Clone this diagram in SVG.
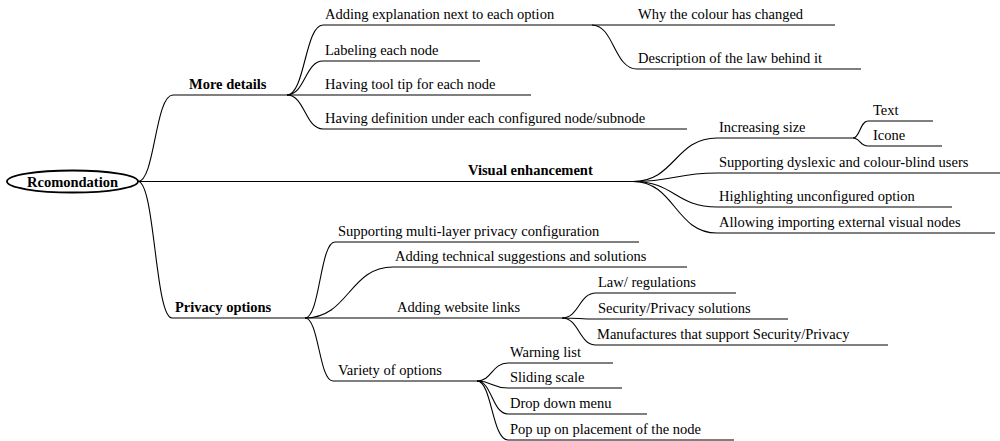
<svg xmlns="http://www.w3.org/2000/svg" width="1000" height="441" viewBox="0 0 1000 441" font-family="'Liberation Serif', 'DejaVu Serif', serif">
<style>
text{font-family:"Liberation Serif","DejaVu Serif",serif;font-size:14.5px;fill:#000}
.b{font-weight:bold}
.u{stroke:#000;stroke-width:1.1;fill:none}
.c{stroke:#000;stroke-width:1.1;fill:none}
</style>
<rect width="1000" height="441" fill="#fff"/>
<g id="connectors">
<path class="c" d="M138 181.5 C155 181.5 155 95 173 95"/>
<path class="c" d="M138 181.5 L468 181.5"/>
<path class="c" d="M138 181.5 C155 181.5 155 318 172 318"/>
<path class="c" d="M287 95 C305 95 305 25 323 25"/>
<path class="c" d="M287 95 C305 95 305 61 323 61"/>
<path class="c" d="M287 95 L323 95"/>
<path class="c" d="M287 95 C305 95 305 129 323 129"/>
<path class="c" d="M592 25 L637 25"/>
<path class="c" d="M592 25 C614 25 614 69 637 69"/>
<path class="c" d="M633 181.5 C675 181.5 675 138 717 138"/>
<path class="c" d="M633 181.5 C675 181.5 675 173 717 173"/>
<path class="c" d="M633 181.5 C675 181.5 675 207 717 207"/>
<path class="c" d="M633 181.5 C675 181.5 675 233 717 233"/>
<path class="c" d="M853 138 C860 138 860 121 868 121"/>
<path class="c" d="M853 138 C860 138 860 146 868 146"/>
<path class="c" d="M305 318 C320 318 320 242 335 242"/>
<path class="c" d="M305 318 C349 318 349 267 393 267"/>
<path class="c" d="M305 318 L393 318"/>
<path class="c" d="M305 318 C319 318 319 381 333 381"/>
<path class="c" d="M562 318 C579 318 579 293 596 293"/>
<path class="c" d="M562 318 C579 318 579 319 596 319"/>
<path class="c" d="M562 318 C579 318 579 345 596 345"/>
<path class="c" d="M477 381 C492 381 492 363 508 363"/>
<path class="c" d="M477 381 C492 381 492 388 508 388"/>
<path class="c" d="M477 381 C492 381 492 414 508 414"/>
<path class="c" d="M477 381 C492 381 492 440 508 440"/>
</g>
<g id="root">
<ellipse cx="72.5" cy="181.5" rx="65.5" ry="11" fill="#fff" stroke="#000" stroke-width="1.8"/>
<text class="b" x="72.5" y="186.5" text-anchor="middle">Rcomondation</text>
</g>
<g id="more-details">
<line class="u" x1="173" y1="95" x2="287" y2="95"/>
<text class="b" x="189" y="88.5">More details</text>
</g>
<g id="adding-explanation">
<line class="u" x1="323" y1="25" x2="592" y2="25"/>
<text x="325" y="18.5">Adding explanation next to each option</text>
</g>
<g id="why-colour">
<line class="u" x1="637" y1="25" x2="835" y2="25"/>
<text x="638" y="18.5">Why the colour has changed</text>
</g>
<g id="description-law">
<line class="u" x1="637" y1="69" x2="861" y2="69"/>
<text x="638" y="62.5">Description of the law behind it</text>
</g>
<g id="labeling">
<line class="u" x1="323" y1="61" x2="480" y2="61"/>
<text x="325" y="54.5">Labeling each node</text>
</g>
<g id="tool-tip">
<line class="u" x1="323" y1="95" x2="531" y2="95"/>
<text x="325" y="88.5">Having tool tip for each node</text>
</g>
<g id="definition">
<line class="u" x1="323" y1="129" x2="687" y2="129"/>
<text x="325" y="122.5">Having definition under each configured node/subnode</text>
</g>
<g id="visual-enhancement">
<line class="u" x1="468" y1="181.5" x2="633" y2="181.5"/>
<text class="b" x="468" y="175">Visual enhancement</text>
</g>
<g id="increasing-size">
<line class="u" x1="717" y1="138" x2="853" y2="138"/>
<text x="719" y="131.5">Increasing size</text>
</g>
<g id="text-node">
<line class="u" x1="868" y1="121" x2="933" y2="121"/>
<text x="873" y="114.5">Text</text>
</g>
<g id="icone">
<line class="u" x1="868" y1="146" x2="942" y2="146"/>
<text x="873" y="139.5">Icone</text>
</g>
<g id="dyslexic">
<line class="u" x1="717" y1="173" x2="1000" y2="173"/>
<text x="719" y="166.5">Supporting dyslexic and colour-blind users</text>
</g>
<g id="highlighting">
<line class="u" x1="717" y1="207" x2="952" y2="207"/>
<text x="719" y="200.5">Highlighting unconfigured option</text>
</g>
<g id="allowing">
<line class="u" x1="717" y1="233" x2="995" y2="233"/>
<text x="719" y="226.5">Allowing importing external visual nodes</text>
</g>
<g id="privacy-options">
<line class="u" x1="172" y1="318" x2="305" y2="318"/>
<text class="b" x="175" y="312">Privacy options</text>
</g>
<g id="multi-layer">
<line class="u" x1="335" y1="242" x2="639" y2="242"/>
<text x="338" y="235.5">Supporting multi-layer privacy configuration</text>
</g>
<g id="technical">
<line class="u" x1="393" y1="267" x2="687" y2="267"/>
<text x="395" y="260.5">Adding technical suggestions and solutions</text>
</g>
<g id="website-links">
<line class="u" x1="393" y1="318" x2="562" y2="318"/>
<text x="397" y="311.5">Adding website links</text>
</g>
<g id="law">
<line class="u" x1="596" y1="293" x2="736" y2="293"/>
<text x="598" y="286.5">Law/ regulations</text>
</g>
<g id="security-solutions">
<line class="u" x1="596" y1="319" x2="788" y2="319"/>
<text x="598" y="312.5">Security/Privacy solutions</text>
</g>
<g id="manufactures">
<line class="u" x1="596" y1="345" x2="888" y2="345"/>
<text x="597" y="338.5">Manufactures that support Security/Privacy</text>
</g>
<g id="variety">
<line class="u" x1="333" y1="381" x2="477" y2="381"/>
<text x="338" y="374.5">Variety of options</text>
</g>
<g id="warning-list">
<line class="u" x1="508" y1="363" x2="613" y2="363"/>
<text x="510" y="356.5">Warning list</text>
</g>
<g id="sliding-scale">
<line class="u" x1="508" y1="388" x2="622" y2="388"/>
<text x="510" y="381.5">Sliding scale</text>
</g>
<g id="drop-down">
<line class="u" x1="508" y1="414" x2="647" y2="414"/>
<text x="510" y="407.5">Drop down menu</text>
</g>
<g id="pop-up">
<line class="u" x1="508" y1="440" x2="734" y2="440"/>
<text x="510" y="433.5">Pop up on placement of the node</text>
</g>
</svg>
